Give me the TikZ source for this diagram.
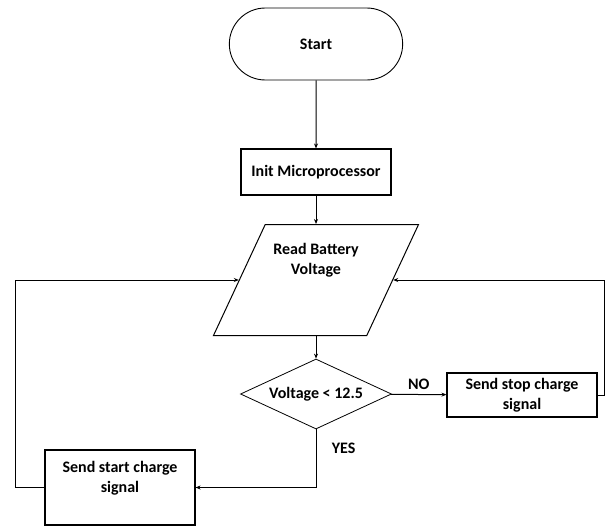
\documentclass[tikz,border=0pt]{standalone}
\usepackage{fontspec}
\setmainfont{Carlito}
\usetikzlibrary{arrows.meta,positioning,shapes.geometric,shapes.misc}

\tikzset{
  every node/.style={font=\bfseries\fontsize{16}{20.5}\selectfont, align=center},
  terminal/.style={draw, rounded rectangle, minimum width=180pt, minimum height=72pt, line width=0.9pt},
  procbox/.style={draw, rectangle, minimum width=150pt, inner sep=0pt, line width=1.1pt},
  iobox/.style={draw, trapezium, trapezium left angle=63, trapezium right angle=117,
    trapezium stretches=true, minimum width=205pt, minimum height=111pt, line width=1pt},
  decision/.style={draw, diamond, aspect=2.16, minimum width=151pt, minimum height=70pt, inner sep=0pt, line width=0.8pt},
  flow/.style={-{Stealth[length=5pt,width=4pt]}, line width=1pt},
}

\begin{document}
\begin{tikzpicture}[x=1pt,y=-1pt]
   \useasboundingbox (0,0) rectangle (610,527);
   \node (start) [terminal] at (316,44) {Start};
   \node (init) [procbox, minimum height=46pt] at (316,172) {Init Microprocessor};
   \node (read) [iobox] at (316,280) {};
   \node (readtxt) at (316,260) {Read Battery\\Voltage};
   \node (cond) [decision] at (316,394) {Voltage < 12.5};
   \node (stop) [procbox, minimum height=44pt] at (522,395) {Send stop charge\\signal};
   \node (startsig) [procbox, minimum height=75pt] at (120,487.5) {};
   \node (startsigtxt) at (120,478) {Send start charge\\signal};
   \coordinate (rturn) at (604,395);
   \coordinate (lturn) at (15,487.5);
   \draw[flow] (start) -- (init);
   \draw[flow] (init) -- (read);
   \draw[flow] (read) -- (cond);
   \draw[flow] (cond) -- node[above, yshift=1pt] {NO} (stop);
   \draw[flow] (cond.south) |- node[pos=0.16, right, xshift=12pt] {YES} (startsig);
   \draw[flow] (stop.east) -- (rturn) |- (read);
   \draw[flow] (startsig.west) -- (lturn) |- (read);
\end{tikzpicture}
\end{document}
